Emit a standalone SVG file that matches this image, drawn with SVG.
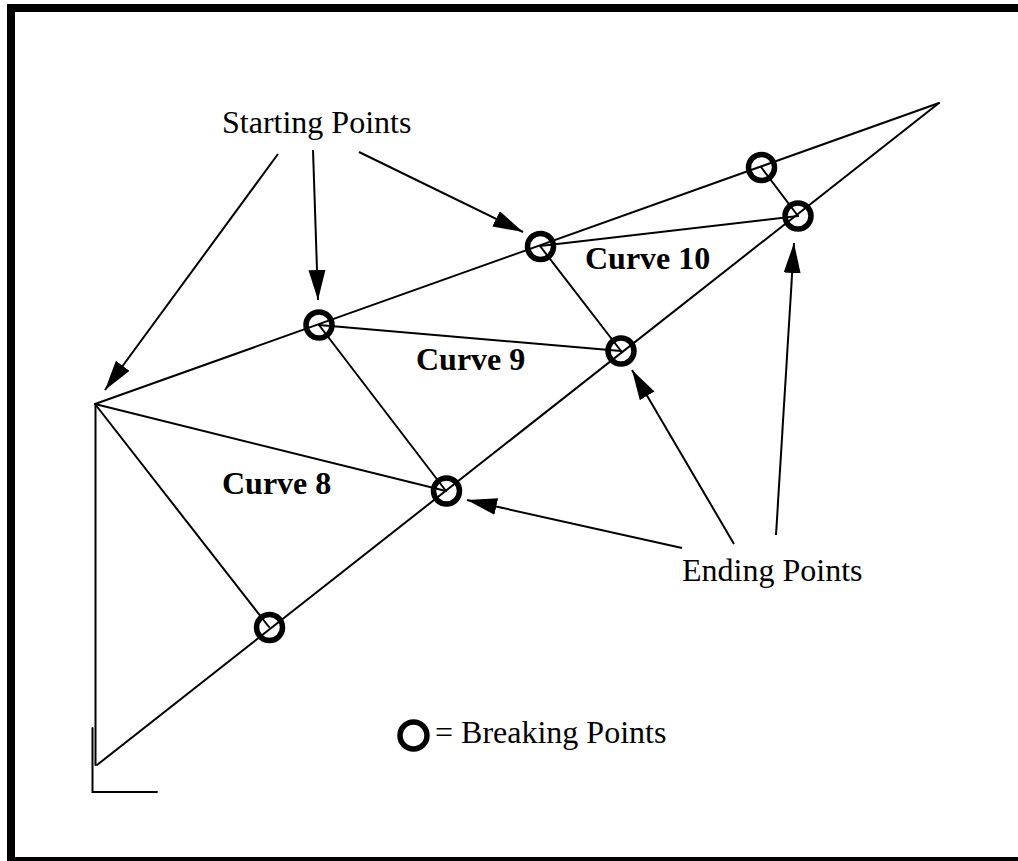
<svg xmlns="http://www.w3.org/2000/svg" width="1018" height="861" viewBox="0 0 1018 861">
<style>
.ln{stroke:#000;stroke-width:2;fill:none;stroke-linecap:round}
.ar{stroke:#000;stroke-width:2;fill:none;marker-end:url(#ah)}
.bp{stroke:#000;stroke-width:5.5;fill:none}
.lbl{font-family:"Liberation Serif","Times New Roman",serif;font-size:32px;fill:#000}
.crv{font-family:"Liberation Serif","Times New Roman",serif;font-size:32px;font-weight:bold;fill:#000}
</style>
<defs>
<marker id="ah" markerUnits="userSpaceOnUse" markerWidth="32" markerHeight="18" refX="30" refY="8.5" orient="auto" viewBox="0 0 32 18">
<path d="M0,0 L30,8.5 L0,17 Z" fill="#000"/>
</marker>
</defs>
<rect x="11" y="8" width="1014" height="853" fill="#fff" stroke="#000" stroke-width="8"/>
<g id="connectors">
<line class="ln" x1="95" y1="404" x2="939" y2="103"/>
<line class="ln" x1="97" y1="765" x2="939" y2="103"/>
<line class="ln" x1="95" y1="404" x2="446" y2="491"/>
<line class="ln" x1="95" y1="404" x2="269" y2="627"/>
<line class="ln" x1="319" y1="325" x2="446" y2="491"/>
<line class="ln" x1="319" y1="325" x2="621" y2="351"/>
<line class="ln" x1="540" y1="246" x2="621" y2="351"/>
<line class="ln" x1="540" y1="246" x2="798" y2="216"/>
<line class="ln" x1="761" y1="167" x2="798" y2="216"/>
<line class="ln" x1="95.5" y1="404" x2="95.5" y2="765"/>
<polyline class="ln" points="92.5,728 92.5,792 157,792"/>
<line class="ar" x1="278" y1="154" x2="105" y2="390"/>
<line class="ar" x1="313" y1="150" x2="318" y2="300"/>
<line class="ar" x1="359" y1="152" x2="523" y2="232"/>
<line class="ar" x1="682" y1="548" x2="467" y2="500"/>
<line class="ar" x1="734" y1="544" x2="632" y2="370"/>
<line class="ar" x1="776" y1="535" x2="794" y2="243"/>
</g>
<g id="bp1"><circle class="bp" cx="319" cy="325" r="13"/></g>
<g id="bp2"><circle class="bp" cx="540.5" cy="246.5" r="13"/></g>
<g id="bp3"><circle class="bp" cx="761.5" cy="167.5" r="13"/></g>
<g id="bp4"><circle class="bp" cx="798" cy="216" r="13"/></g>
<g id="bp5"><circle class="bp" cx="621" cy="351" r="13"/></g>
<g id="bp6"><circle class="bp" cx="446.5" cy="491" r="13"/></g>
<g id="bp7"><circle class="bp" cx="269.5" cy="627.5" r="13"/></g>
<g id="starting"><text class="lbl" x="222" y="133">Starting Points</text></g>
<g id="ending"><text class="lbl" x="682" y="581">Ending Points</text></g>
<g id="curve8"><text class="crv" x="222" y="494">Curve 8</text></g>
<g id="curve9"><text class="crv" x="416" y="370">Curve 9</text></g>
<g id="curve10"><text class="crv" x="585" y="269">Curve 10</text></g>
<g id="legend">
<circle class="bp" cx="413.5" cy="735.5" r="13.5"/>
<text class="lbl" x="435" y="743">= Breaking Points</text>
</g>
</svg>
